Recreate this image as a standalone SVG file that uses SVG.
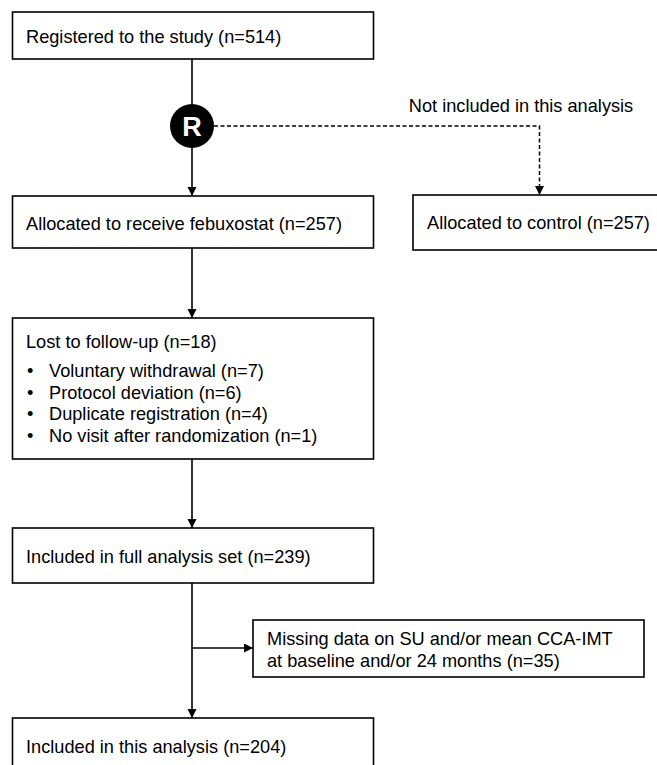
<svg xmlns="http://www.w3.org/2000/svg" width="657" height="765" viewBox="0 0 657 765">
<style>
.box{fill:#fff;stroke:#000;stroke-width:1.6}
.t{font-family:"Liberation Sans",Arial,sans-serif;font-size:18.2px;fill:#000}
.ln{fill:none;stroke:#000;stroke-width:1.6}
.dash{fill:none;stroke:#000;stroke-width:1.5;stroke-dasharray:4 2.5}
</style>
<defs>
<marker id="ah" markerUnits="userSpaceOnUse" markerWidth="10" markerHeight="10" refX="9" refY="4.5" orient="auto">
<path d="M0,0 L9,4.5 L0,9 z" fill="#000"/>
</marker>
</defs>
<rect width="657" height="765" fill="#fff"/>
<g id="connectors">
<line class="ln" x1="192" y1="59" x2="192" y2="105"/>
<line class="ln" x1="192" y1="147" x2="192" y2="196" marker-end="url(#ah)"/>
<polyline class="dash" points="214,126 539.5,126 539.5,195" marker-end="url(#ah)"/>
<line class="ln" x1="192" y1="248" x2="192" y2="318" marker-end="url(#ah)"/>
<line class="ln" x1="192" y1="459" x2="192" y2="528" marker-end="url(#ah)"/>
<line class="ln" x1="192" y1="583" x2="192" y2="718" marker-end="url(#ah)"/>
<line class="ln" x1="192" y1="648" x2="253" y2="648" marker-end="url(#ah)"/>
</g>
<g id="registered">
<rect class="box" x="12.5" y="12" width="361" height="47"/>
<text class="t" x="26" y="43">Registered to the study (n=514)</text>
</g>
<g id="randomization">
<circle cx="192" cy="126" r="22" fill="#000"/>
<text x="192" y="136" text-anchor="middle" font-family="Liberation Sans,Arial,sans-serif" font-weight="bold" font-size="27" fill="#fff">R</text>
</g>
<g id="not-included-label">
<text class="t" x="521" y="112" text-anchor="middle">Not included in this analysis</text>
</g>
<g id="febuxostat">
<rect class="box" x="12.5" y="196" width="361" height="52"/>
<text class="t" x="26" y="230">Allocated to receive febuxostat (n=257)</text>
</g>
<g id="control">
<rect class="box" x="413" y="195" width="260" height="55"/>
<text class="t" x="427" y="229">Allocated to control (n=257)</text>
</g>
<g id="lost">
<rect class="box" x="12.5" y="318" width="361" height="141"/>
<text class="t" x="26" y="348">Lost to follow-up (n=18)</text>
<text class="t" x="27" y="377">•</text><text class="t" x="49" y="377">Voluntary withdrawal (n=7)</text>
<text class="t" x="27" y="399">•</text><text class="t" x="49" y="399">Protocol deviation (n=6)</text>
<text class="t" x="27" y="420">•</text><text class="t" x="49" y="420">Duplicate registration (n=4)</text>
<text class="t" x="27" y="442">•</text><text class="t" x="49" y="442">No visit after randomization (n=1)</text>
</g>
<g id="full-analysis">
<rect class="box" x="12.5" y="528" width="361" height="55"/>
<text class="t" x="26" y="563">Included in full analysis set (n=239)</text>
</g>
<g id="missing">
<rect class="box" x="253" y="620" width="391" height="57"/>
<text class="t" x="267" y="645">Missing data on SU and/or mean CCA-IMT</text>
<text class="t" x="267" y="667">at baseline and/or 24 months (n=35)</text>
</g>
<g id="this-analysis">
<rect class="box" x="12.5" y="718" width="361" height="60"/>
<text class="t" x="26" y="753">Included in this analysis (n=204)</text>
</g>
</svg>
